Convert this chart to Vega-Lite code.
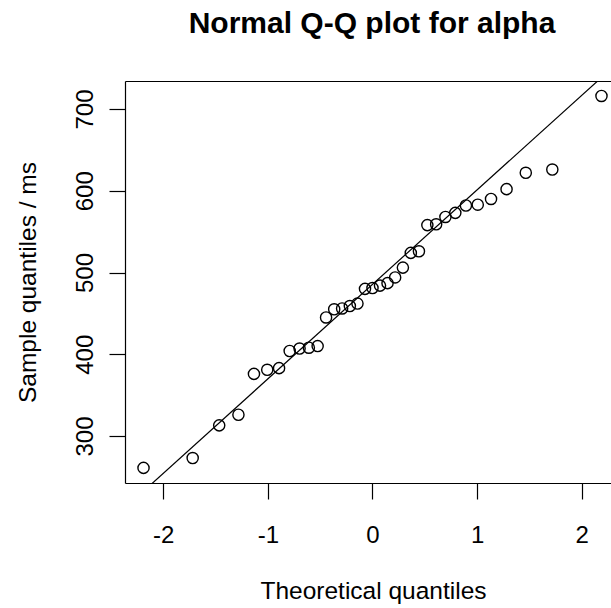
{
  "$schema": "https://vega.github.io/schema/vega-lite/v6.json",
  "width": 486,
  "height": 402,
  "autosize": {"type": "none"},
  "padding": {"left": 125, "top": 81, "right": 0, "bottom": 125},
  "background": "white",
  "title": {
    "text": "Normal Q-Q plot for alpha",
    "font": "Liberation Sans",
    "fontSize": 30,
    "fontWeight": "bold",
    "color": "black",
    "anchor": "middle",
    "frame": "group",
    "baseline": "alphabetic",
    "offset": 18,
    "dx": 4
  },
  "config": {
    "view": {"stroke": null},
    "axis": {
      "grid": false,
      "domainColor": "black",
      "domainWidth": 1.2,
      "tickColor": "black",
      "tickWidth": 1.2,
      "tickSize": 16,
      "labelFont": "Liberation Sans",
      "labelFontSize": 24,
      "labelColor": "black",
      "labelFlush": false,
      "labelOverlap": false,
      "titleFont": "Liberation Sans",
      "titleFontSize": 24.5,
      "titleFontWeight": "normal",
      "titleColor": "black"
    }
  },
  "datasets": {
    "alpha": [
      {"theoretical": -2.189, "sample": 261},
      {"theoretical": -1.719, "sample": 273},
      {"theoretical": -1.4654, "sample": 313},
      {"theoretical": -1.2816, "sample": 326},
      {"theoretical": -1.1332, "sample": 376},
      {"theoretical": -1.0063, "sample": 381},
      {"theoretical": -0.8932, "sample": 383},
      {"theoretical": -0.7917, "sample": 404},
      {"theoretical": -0.6972, "sample": 407},
      {"theoretical": -0.6085, "sample": 408},
      {"theoretical": -0.5244, "sample": 410},
      {"theoretical": -0.4439, "sample": 445},
      {"theoretical": -0.3662, "sample": 455},
      {"theoretical": -0.2905, "sample": 456},
      {"theoretical": -0.2165, "sample": 459},
      {"theoretical": -0.1437, "sample": 462},
      {"theoretical": -0.0717, "sample": 480},
      {"theoretical": 0, "sample": 481},
      {"theoretical": 0.0717, "sample": 484},
      {"theoretical": 0.1437, "sample": 487},
      {"theoretical": 0.2165, "sample": 494},
      {"theoretical": 0.2905, "sample": 506},
      {"theoretical": 0.3662, "sample": 524},
      {"theoretical": 0.4439, "sample": 526},
      {"theoretical": 0.5244, "sample": 558},
      {"theoretical": 0.6085, "sample": 559},
      {"theoretical": 0.6972, "sample": 568},
      {"theoretical": 0.7917, "sample": 573},
      {"theoretical": 0.8932, "sample": 582},
      {"theoretical": 1.0063, "sample": 583},
      {"theoretical": 1.1332, "sample": 590},
      {"theoretical": 1.2816, "sample": 602},
      {"theoretical": 1.4654, "sample": 622},
      {"theoretical": 1.719, "sample": 626},
      {"theoretical": 2.189, "sample": 716}
    ],
    "qqline": [
      {"theoretical": -2.5, "sample": 196.5},
      {"theoretical": 2.5, "sample": 774.5}
    ]
  },
  "layer": [
    {
      "data": {"name": "qqline"},
      "mark": {"type": "line", "clip": true, "color": "black", "strokeWidth": 1.2},
      "encoding": {
        "x": {
          "field": "theoretical",
          "type": "quantitative",
          "scale": {"domain": [-2.366, 2.28], "nice": false, "zero": false},
          "axis": {
            "orient": "bottom",
            "values": [-2, -1, 0, 1, 2],
            "labelExpr": "'' + datum.value",
            "labelAlign": "center",
            "labelBaseline": "alphabetic",
            "labelPadding": 43,
            "title": "Theoretical quantiles",
            "titleX": 248,
            "titleY": 115,
            "titleAlign": "center",
            "titleBaseline": "alphabetic"
          }
        },
        "y": {
          "field": "sample",
          "type": "quantitative",
          "scale": {"domain": [242.5, 734.3], "nice": false, "zero": false},
          "axis": {
            "values": [300, 400, 500, 600, 700],
            "labelAngle": -90,
            "labelAlign": "center",
            "labelBaseline": "alphabetic",
            "labelPadding": 17,
            "title": "Sample quantiles / ms",
            "titleAngle": -90,
            "titleX": -90,
            "titleY": 201,
            "titleAlign": "center",
            "titleBaseline": "alphabetic"
          }
        }
      }
    },
    {
      "data": {"name": "alpha"},
      "mark": {"type": "point", "filled": false, "stroke": "black", "strokeWidth": 1.4, "size": 125, "opacity": 1, "clip": true},
      "encoding": {
        "x": {
          "field": "theoretical",
          "type": "quantitative",
          "scale": {"domain": [-2.366, 2.28], "nice": false, "zero": false},
          "axis": {"orient": "top", "labels": false, "ticks": false, "title": null, "domain": true}
        },
        "y": {
          "field": "sample",
          "type": "quantitative",
          "scale": {"domain": [242.5, 734.3], "nice": false, "zero": false}
        }
      }
    }
  ],
  "resolve": {"axis": {"x": "independent"}}
}
